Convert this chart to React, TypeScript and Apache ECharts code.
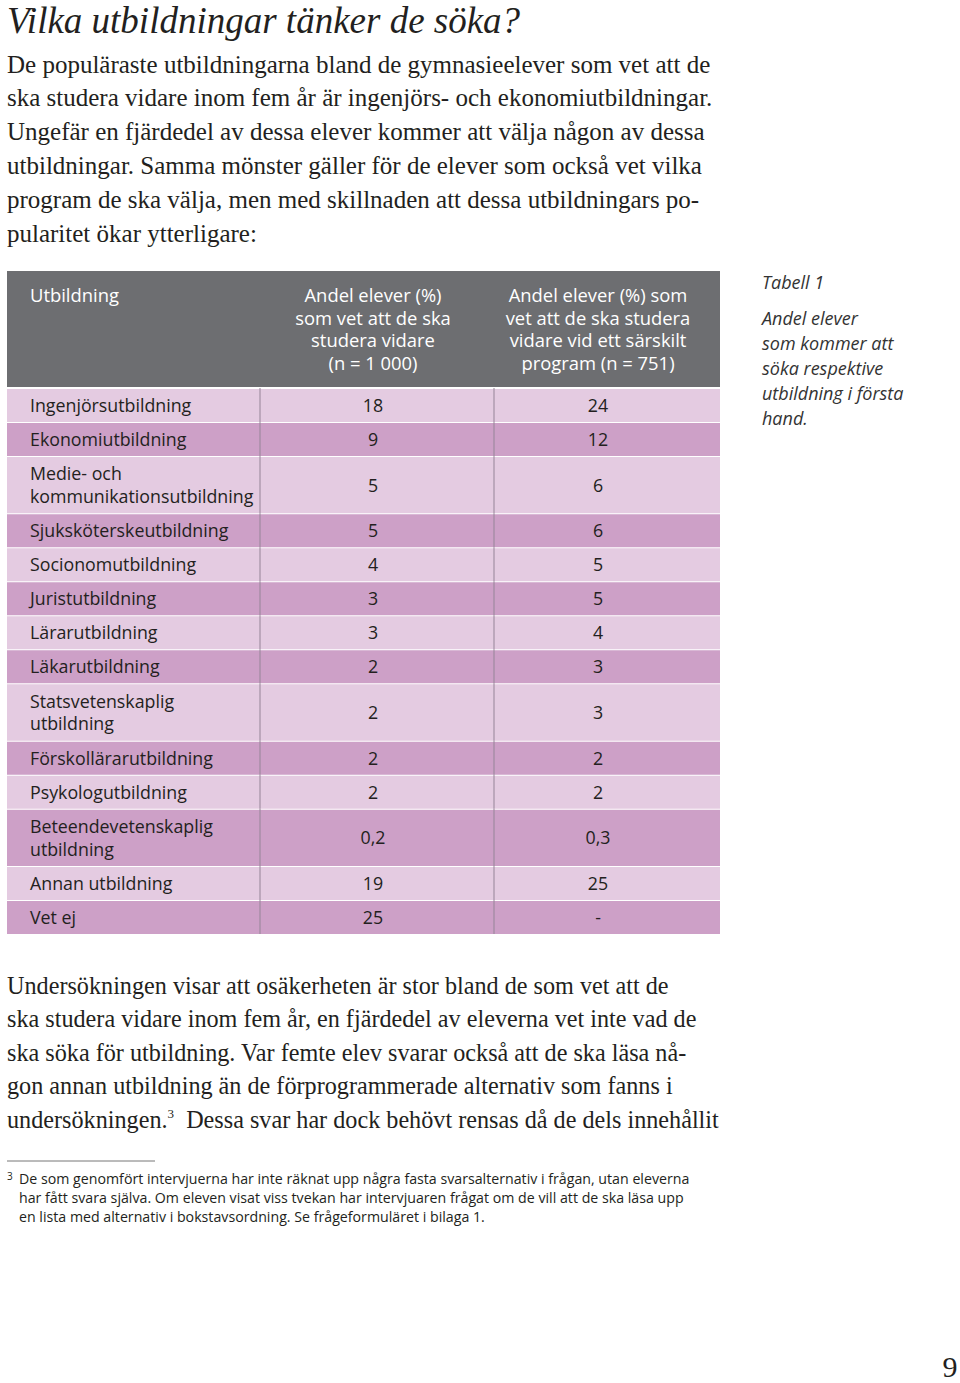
import React, { useEffect, useRef } from "react";
import * as echarts from "echarts";

// ---------- data ----------
const categories: string[] = [
  "Ingenjörsutbildning",
  "Ekonomiutbildning",
  "Medie- och\nkommunikationsutbildning",
  "Sjuksköterskeutbildning",
  "Socionomutbildning",
  "Juristutbildning",
  "Lärarutbildning",
  "Läkarutbildning",
  "Statsvetenskaplig\nutbildning",
  "Förskollärarutbildning",
  "Psykologutbildning",
  "Beteendevetenskaplig\nutbildning",
  "Annan utbildning",
  "Vet ej",
];
const shareAll: (number | null)[] = [18, 9, 5, 5, 4, 3, 3, 2, 2, 2, 2, 0.2, 19, 25];
const shareProgram: (number | null)[] = [24, 12, 6, 6, 5, 5, 4, 3, 3, 2, 2, 0.3, 25, null];
const columnHeaders: string[] = [
  "Utbildning",
  "Andel elever (%)\nsom vet att de ska\nstudera vidare\n(n = 1 000)",
  "Andel elever (%) som\nvet att de ska studera\nvidare vid ett särskilt\nprogram (n = 751)",
];

const title = "Vilka utbildningar tänker de söka?";
const introLines: string[] = [
  "De populäraste utbildningarna bland de gymnasieelever som vet att de",
  "ska studera vidare inom fem år är ingenjörs- och ekonomiutbildningar.",
  "Ungefär en fjärdedel av dessa elever kommer att välja någon av dessa",
  "utbildningar. Samma mönster gäller för de elever som också vet vilka",
  "program de ska välja, men med skillnaden att dessa utbildningars po-",
  "pularitet ökar ytterligare:",
];
const outroLines: string[] = [
  "Undersökningen visar att osäkerheten är stor bland de som vet att de",
  "ska studera vidare inom fem år, en fjärdedel av eleverna vet inte vad de",
  "ska söka för utbildning. Var femte elev svarar också att de ska läsa nå-",
  "gon annan utbildning än de förprogrammerade alternativ som fanns i",
  "undersökningen.{sup|3}  Dessa svar har dock behövt rensas då de dels innehållit",
];
const captionLines: string[] = ["Andel elever", "som kommer att", "söka respektive", "utbildning i första", "hand."];
const footnoteLines: string[] = [
  "De som genomfört intervjuerna har inte räknat upp några fasta svarsalternativ i frågan, utan eleverna",
  "har fått svara själva. Om eleven visat viss tvekan har intervjuaren frågat om de vill att de ska läsa upp",
  "en lista med alternativ i bokstavsordning. Se frågeformuläret i bilaga 1.",
];

// ---------- style ----------
const SERIF = "'Liberation Serif', 'DejaVu Serif', serif";
const SANS = "'Open Sans', Lato, sans-serif";
const INK = "#231f20";
const HEADER_BG = "#6d6e71";
const ROW_LIGHT = "#e4cbe1";
const ROW_DARK = "#cda0c7";
const DIVIDER = "#958497";

const TABLE_W = 713;
const COL_DIV = [253, 487];
const COL_TEXT = [23, 366, 591];
const ROW_PAD = 0.46;

const fmt = (v: number | null) => (v === null ? "-" : String(v).replace(".", ","));

// row extents in "line units"
const rowData: number[][] = [];
let acc = 0;
categories.forEach((c, i) => {
  const h = c.split("\n").length + ROW_PAD;
  rowData.push([i, acc, acc + h]);
  acc += h;
});
const totalUnits = acc;

export default function App() {
  const ref = useRef<HTMLDivElement>(null);
  useEffect(() => {
    if (!ref.current) return;
    const chart = echarts.init(ref.current, undefined, { renderer: "svg" });

    const graphics: any[] = [];
    graphics.push({
      type: "text",
      x: 7,
      y: 20,
      style: { text: title, font: `italic 37px ${SERIF}`, fill: INK, align: "left", verticalAlign: "middle" },
    });
    introLines.forEach((t, i) => {
      graphics.push({
        type: "text",
        x: 7,
        y: 64 + i * 33.8,
        style: { text: t, font: `25px ${SERIF}`, fill: INK, align: "left", verticalAlign: "middle" },
      });
    });
    // header
    graphics.push({
      type: "rect",
      shape: { x: 7, y: 271, width: TABLE_W, height: 116 },
      style: { fill: HEADER_BG },
    });
    columnHeaders.forEach((h, ci) => {
      graphics.push({
        type: "text",
        x: 7 + COL_TEXT[ci],
        y: 283,
        style: {
          text: h,
          font: `18.4px ${SANS}`,
          fill: "#ffffff",
          align: ci === 0 ? "left" : "center",
          verticalAlign: "top",
          lineHeight: 22.7,
        },
      });
    });
    // caption
    graphics.push({
      type: "text",
      x: 762,
      y: 282,
      style: { text: "Tabell 1", font: `italic 18px ${SANS}`, fill: "#333", align: "left", verticalAlign: "middle" },
    });
    captionLines.forEach((t, i) => {
      graphics.push({
        type: "text",
        x: 762,
        y: 318 + i * 25,
        style: { text: t, font: `italic 18px ${SANS}`, fill: "#333", align: "left", verticalAlign: "middle" },
      });
    });
    outroLines.forEach((t, i) => {
      graphics.push({
        type: "text",
        x: 7,
        y: 985 + i * 33.6,
        style: {
          text: t,
          font: `24.2px ${SERIF}`,
          fill: INK,
          align: "left",
          verticalAlign: "middle",
          rich: {
            sup: { fontSize: 13, fontFamily: SERIF, fill: INK, verticalAlign: "top", lineHeight: 13 },
          },
        },
      });
    });
    graphics.push({
      type: "line",
      shape: { x1: 7, y1: 1161, x2: 155, y2: 1161 },
      style: { stroke: "#777", lineWidth: 1 },
    });
    graphics.push({
      type: "text",
      x: 7,
      y: 1176,
      style: { text: "3", font: `10px ${SANS}`, fill: INK, align: "left", verticalAlign: "middle" },
    });
    footnoteLines.forEach((t, i) => {
      graphics.push({
        type: "text",
        x: 19,
        y: 1178 + i * 19,
        style: { text: t, font: `14.2px ${SANS}`, fill: INK, align: "left", verticalAlign: "middle" },
      });
    });
    graphics.push({
      type: "text",
      x: 950,
      y: 1366,
      style: { text: "9", font: `30px ${SERIF}`, fill: INK, align: "center", verticalAlign: "middle" },
    });

    chart.setOption({
      animation: false,
      backgroundColor: "#ffffff",
      grid: { left: 7, top: 388, width: TABLE_W, height: 546 },
      xAxis: { type: "value", min: 0, max: TABLE_W, show: false },
      yAxis: { type: "value", min: 0, max: totalUnits, inverse: true, show: false },
      graphic: { elements: graphics },
      series: [
        {
          type: "custom",
          coordinateSystem: "cartesian2d",
          data: rowData,
          silent: true,
          renderItem: (params: any, api: any) => {
            const i = api.value(0);
            const p0 = api.coord([0, api.value(1)]);
            const p1 = api.coord([TABLE_W, api.value(2)]);
            const left = p0[0];
            const right = p1[0];
            const top = p0[1];
            const bottom = p1[1];
            const mid = (top + bottom) / 2;
            const d1 = api.coord([COL_DIV[0], 0])[0];
            const d2 = api.coord([COL_DIV[1], 0])[0];
            const tx = COL_TEXT.map((c) => api.coord([c, 0])[0]);
            const textStyle = { font: `17.8px ${SANS}`, fill: INK, verticalAlign: "middle", lineHeight: 22.5 };
            return {
              type: "group",
              children: [
                {
                  type: "rect",
                  shape: { x: left, y: top + 1, width: right - left, height: bottom - top - 1 },
                  style: { fill: i % 2 === 0 ? ROW_LIGHT : ROW_DARK },
                },
                { type: "line", shape: { x1: d1, y1: top, x2: d1, y2: bottom }, style: { stroke: DIVIDER, lineWidth: 1 } },
                { type: "line", shape: { x1: d2, y1: top, x2: d2, y2: bottom }, style: { stroke: DIVIDER, lineWidth: 1 } },
                { type: "text", x: tx[0], y: mid, style: { ...textStyle, text: categories[i], align: "left" } },
                { type: "text", x: tx[1], y: mid, style: { ...textStyle, text: fmt(shareAll[i]), align: "center" } },
                { type: "text", x: tx[2], y: mid, style: { ...textStyle, text: fmt(shareProgram[i]), align: "center" } },
              ],
            };
          },
        },
      ],
    });
    return () => chart.dispose();
  }, []);
  return <div ref={ref} style={{ position: "absolute", left: 0, top: 0, width: 960, height: 1383 }} />;
}
